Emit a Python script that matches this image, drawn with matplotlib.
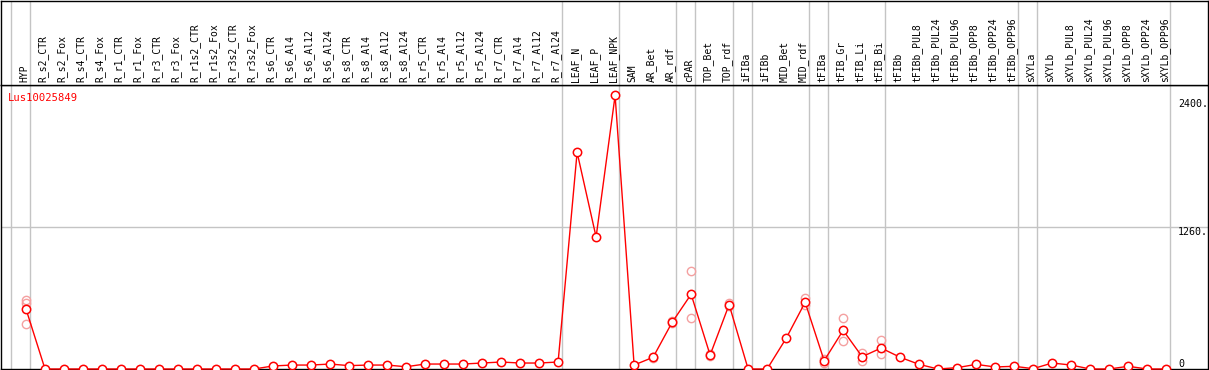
import matplotlib
matplotlib.use("Agg")
import matplotlib.pyplot as plt

gene = "Lus10025849"

categories = [
    "HYP", "R_s2_CTR", "R_s2_Fox", "R_s4_CTR", "R_s4_Fox", "R_r1_CTR", "R_r1_Fox",
    "R_r3_CTR", "R_r3_Fox", "R_r1s2_CTR", "R_r1s2_Fox", "R_r3s2_CTR", "R_r3s2_Fox",
    "R_s6_CTR", "R_s6_Al4", "R_s6_Al12", "R_s6_Al24", "R_s8_CTR", "R_s8_Al4",
    "R_s8_Al12", "R_s8_Al24", "R_r5_CTR", "R_r5_Al4", "R_r5_Al12", "R_r5_Al24",
    "R_r7_CTR", "R_r7_Al4", "R_r7_Al12", "R_r7_Al24", "LEAF_N", "LEAF_P", "LEAF_NPK",
    "SAM", "AR_Bet", "AR_rdf", "cPAR", "TOP_Bet", "TOP_rdf", "iFIBa", "iFIBb",
    "MID_Bet", "MID_rdf", "tFIBa", "tFIB_Gr", "tFIB_Li", "tFIB_Bi", "tFIBb",
    "tFIBb_PUL8", "tFIBb_PUL24", "tFIBb_PUL96", "tFIBb_OPP8", "tFIBb_OPP24",
    "tFIBb_OPP96", "sXYLa", "sXYLb", "sXYLb_PUL8", "sXYLb_PUL24", "sXYLb_PUL96",
    "sXYLb_OPP8", "sXYLb_OPP24", "sXYLb_OPP96",
]

# mean expression per sample
expr = [
    532, 0, 0, 0, 0, 0, 0,
    0, 0, 0, 0, 0, 0,
    27, 35, 35, 44, 30, 35,
    35, 20, 44, 44, 44, 53,
    62, 53, 53, 62, 1923, 1171, 2427,
    35, 104, 414, 663, 124, 571, 0, 0,
    272, 592, 74, 343, 109, 186, 104,
    41, 0, 12, 41, 18,
    24, 3, 53, 35, 0, 0,
    24, 0, 0,
]

# individual replicates where they stand apart from the mean
replicates = {
    "HYP": [612, 588, 399],
    "AR_Bet": [110, 98],
    "AR_rdf": [425, 405],
    "cPAR": [872, 450],
    "TOP_Bet": [130, 118],
    "TOP_rdf": [585, 560],
    "MID_rdf": [627, 570],
    "tFIBa": [90, 50],
    "tFIB_Gr": [450, 248],
    "tFIB_Li": [139, 74],
    "tFIB_Bi": [257, 130],
}

# separators: one before the first sample, then after these samples
group_ends = ["HYP", "R_r7_Al24", "LEAF_NPK", "AR_rdf", "cPAR", "TOP_rdf", "iFIBa",
              "MID_rdf", "tFIBa", "tFIB_Bi", "tFIBb_OPP96", "sXYLa", "sXYLb_OPP96"]

yticks = [0, 1260, 2400]
ytick_labels = ["0", "1260.", "2400."]

W, H = 1209, 370
fig = plt.figure(figsize=(W / 100, H / 100), dpi=100)
mono = "DejaVu Sans Mono"
red = "#ff0000"
grey = "#c4c4c4"

x = list(range(len(categories)))
xlim = (-1.316, 62.2)
sep_x = [-1 + 0.21] + [categories.index(c) + 0.21 for c in group_ends]

# data panel
ax = fig.add_axes([1 / W, 1 / H, 1207 / W, 284 / H])
ax.set_xlim(*xlim)
ax.set_ylim(0, 2520)
ax.set_xticks([])
ax.set_yticks([])
for s in ax.spines.values():
    s.set_linewidth(1.0)
for sx in sep_x:
    ax.axvline(sx, color=grey, lw=1.0, zorder=0)
ax.axhline(1260, color=grey, lw=1.0, zorder=0)

for name, vals in replicates.items():
    i = categories.index(name)
    ax.plot([i] * len(vals), vals, "o", ms=6, mfc="none", mec="#f4a0a0",
            mew=1.0, zorder=2, clip_on=False)

ax.plot(x, expr, "-", color=red, lw=1.0, zorder=3, clip_on=False)
ax.plot(x, expr, "o", ms=6, mfc="white", mec=red, mew=1.1, zorder=4,
        clip_on=False)

for v, lab in zip(yticks, ytick_labels):
    ax.text(60.63, v, lab, fontsize=7.2, family=mono,
            va="bottom" if v == 0 else "top", ha="left")

ax.text(0.006, 0.955, gene, transform=ax.transAxes, color=red, fontsize=7.6,
        family=mono, va="center", ha="left")

# label band
band = fig.add_axes([1 / W, 285 / H, 1207 / W, 84 / H])
band.set_xlim(*xlim)
band.set_ylim(0, 1)
band.set_xticks([])
band.set_yticks([])
for s in band.spines.values():
    s.set_linewidth(1.0)
for sx in sep_x:
    band.axvline(sx, color=grey, lw=1.0, zorder=0)
for i, c in enumerate(categories):
    band.text(i - 0.1, 0.03, c, rotation=90, fontsize=7, family=mono,
              ha="center", va="bottom")

fig.savefig("out.png", dpi=100)
